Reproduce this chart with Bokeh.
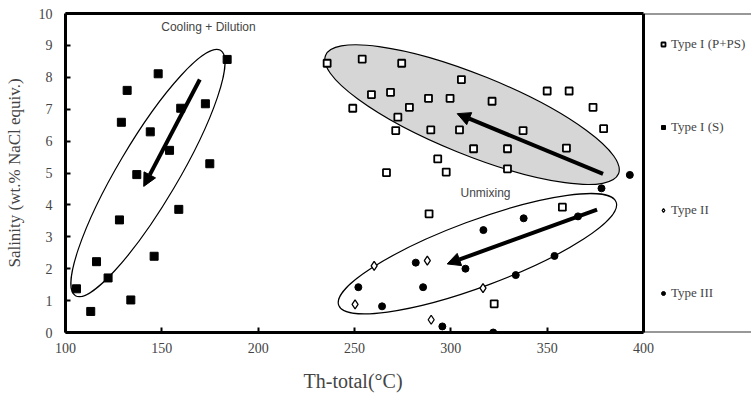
from bokeh.plotting import figure
from bokeh.models import (Range1d, LinearAxis, FixedTicker, Span, Arrow, NormalHead,
                          Label, Legend, LegendItem, Title)
from bokeh.embed import file_html
from bokeh.resources import INLINE

# ---------------- data ----------------
type1_pps_t = [235.8, 254.0, 274.5, 305.5, 258.8, 268.7, 288.4, 299.6, 321.4, 350.0,
               361.4, 373.8, 249.1, 278.5, 272.5, 271.4, 289.6, 304.5, 337.5, 379.3,
               311.8, 329.4, 360.0, 293.2, 266.6, 297.6, 329.4, 288.7, 357.9, 322.5]
type1_pps_s = [8.44, 8.57, 8.44, 7.93, 7.46, 7.53, 7.34, 7.34, 7.25, 7.57,
               7.57, 7.06, 7.03, 7.06, 6.75, 6.33, 6.35, 6.35, 6.33, 6.39,
               5.76, 5.76, 5.78, 5.44, 5.01, 5.03, 5.13, 3.72, 3.93, 0.90]

type1_s_t = [148.1, 132.0, 129.0, 144.0, 159.8, 172.6, 154.0, 137.0, 174.9, 183.9,
             105.7, 113.1, 116.1, 122.1, 128.0, 133.9, 146.0, 158.8]
type1_s_s = [8.11, 7.59, 6.59, 6.29, 7.03, 7.17, 5.71, 4.95, 5.29, 8.56,
             1.37, 0.66, 2.22, 1.71, 3.53, 1.02, 2.39, 3.86]

type2_t = [260.2, 287.8, 250.3, 316.7, 289.8]
type2_s = [2.09, 2.25, 0.88, 1.39, 0.40]

type3_t = [337.8, 316.9, 281.8, 307.6, 252.0, 285.6, 264.3, 333.7, 353.8, 366.0,
           295.6, 322.0, 392.9, 378.2]
type3_s = [3.58, 3.21, 2.19, 2.00, 1.42, 1.42, 0.82, 1.80, 2.40, 3.64,
           0.19, 0.00, 4.94, 4.52]

series_labels = ["Type I (P+PS)", "Type I (S)", "Type II", "Type III"]
x_ticks = [100, 150, 200, 250, 300, 350, 400]
y_ticks = [0, 1, 2, 3, 4, 5, 6, 7, 8, 9, 10]

# trend annotations (data coordinates)
arrow_x0 = [169.7, 379.0, 375.9]
arrow_y0 = [7.93, 4.97, 3.85]
arrow_x1 = [140.6, 303.3, 298.1]
arrow_y1 = [4.58, 6.86, 2.15]

ellipse_cx = [142.8, 311.0, 313.8]
ellipse_cy = [5.00, 6.83, 2.47]

# ---------------- layout ----------------
X_MIN, X_MAX, Y_MIN, Y_MAX = 100, 400, 0, 10
W, H = 751, 405
FRAME_L, PLOT_R, FRAME_TOP, FRAME_BOT = 65, 643, 13, 332
x_end = X_MAX + (W - PLOT_R) * (X_MAX - X_MIN) / (PLOT_R - FRAME_L)

SERIF = "Liberation Serif"
SANS = "Liberation Sans"

p = figure(width=W, height=H, x_range=Range1d(X_MIN, x_end), y_range=Range1d(Y_MIN, Y_MAX),
           output_backend="svg", toolbar_location=None,
           min_border_left=FRAME_L, min_border_right=0,
           min_border_top=FRAME_TOP, min_border_bottom=H - FRAME_BOT)
p.outline_line_color = None
p.xgrid.visible = False
p.ygrid.visible = False
p.background_fill_color = "white"

# x axis (bottom)
xa = p.xaxis[0]
xa.ticker = FixedTicker(ticks=x_ticks)
xa.bounds = (X_MIN, X_MAX)
xa.axis_line_width = 3
xa.major_tick_in = 5
xa.major_tick_out = 0
xa.major_tick_line_width = 2
xa.minor_tick_line_color = None
xa.major_label_text_font = SERIF
xa.major_label_text_font_size = "14px"
xa.major_label_standoff = 10

# y axis (left)
ya = p.yaxis[0]
ya.ticker = FixedTicker(ticks=y_ticks)
ya.axis_line_width = 3
ya.major_tick_in = 5
ya.major_tick_out = 0
ya.major_tick_line_width = 2
ya.minor_tick_line_color = None
ya.major_label_text_font = SERIF
ya.major_label_text_font_size = "14px"
ya.major_label_standoff = 13
ya.axis_label = "Salinity (wt.% NaCl equiv.)"
ya.axis_label_text_font = SERIF
ya.axis_label_text_font_size = "17px"
ya.axis_label_text_font_style = "normal"
ya.axis_label_standoff = 12

# top border
top = LinearAxis(ticker=FixedTicker(ticks=[]), bounds=(X_MIN, X_MAX), axis_line_width=3,
                 major_tick_line_color=None, minor_tick_line_color=None)
p.add_layout(top, "above")

# right border of plot area
p.add_layout(Span(location=X_MAX, dimension="height", line_width=3, line_color="black"))

# thin lines around legend area
p.segment(x0=[X_MAX, X_MAX], y0=[Y_MIN, Y_MAX], x1=[x_end, x_end], y1=[Y_MIN, Y_MAX],
          line_color="#333333", line_width=2)

# ellipses
p.ellipse(x=ellipse_cx[1], y=ellipse_cy[1], width=316, height=80, angle=-22.0,
          width_units="screen", height_units="screen", angle_units="deg",
          fill_color="#d6d6d6", line_color="black", line_width=1.2)
p.ellipse(x=ellipse_cx[0], y=ellipse_cy[0], width=285, height=60, angle=59.4,
          width_units="screen", height_units="screen", angle_units="deg",
          fill_color=None, line_color="black", line_width=1.2)
p.ellipse(x=ellipse_cx[2], y=ellipse_cy[2], width=296, height=66, angle=20.4,
          width_units="screen", height_units="screen", angle_units="deg",
          fill_color=None, line_color="black", line_width=1.2)

# points
r1 = p.scatter(type1_pps_t, type1_pps_s, marker="square", size=7,
               fill_color="white", line_color="black", line_width=1.8)
r2 = p.scatter(type1_s_t, type1_s_s, marker="square", size=8,
               fill_color="black", line_color="black")
r3 = p.scatter(type2_t, type2_s, marker="diamond", size=9,
               fill_color="white", line_color="black", line_width=1.3)
r4 = p.scatter(type3_t, type3_s, marker="circle", size=7,
               fill_color="black", line_color="black")

# arrows
for xs, ys, xe, ye in zip(arrow_x0, arrow_y0, arrow_x1, arrow_y1):
    p.add_layout(Arrow(end=NormalHead(size=13, fill_color="black", line_color="black"),
                       x_start=xs, y_start=ys, x_end=xe, y_end=ye,
                       line_width=4, line_color="black"))

# annotation texts
p.add_layout(Label(x=174.2, y=9.59, text="Cooling + Dilution", text_font=SANS,
                   text_font_size="12px", text_align="center", text_baseline="middle"))
p.add_layout(Label(x=318.0, y=4.36, text="Unmixing", text_font=SANS,
                   text_font_size="12px", text_align="center", text_baseline="middle"))

# x axis title, placed under the plot area (not under the legend)
x_title = Title(text="Th-total(°C)", align="left", offset=238,
                text_font=SERIF, text_font_size="20px", text_font_style="normal",
                standoff=25)
p.add_layout(x_title, "below")

# legend
legend = Legend(items=[LegendItem(label=series_labels[0], renderers=[r1]),
                       LegendItem(label=series_labels[1], renderers=[r2]),
                       LegendItem(label=series_labels[2], renderers=[r3]),
                       LegendItem(label=series_labels[3], renderers=[r4])],
                location=(593, 31), orientation="vertical",
                padding=0, margin=0, spacing=67, label_height=16, glyph_height=16,
                glyph_width=10, label_standoff=3, border_line_color=None,
                background_fill_alpha=0, label_text_font=SERIF,
                label_text_font_size="13px")
p.add_layout(legend, "center")

open("out.html", "w").write(file_html(p, INLINE))
